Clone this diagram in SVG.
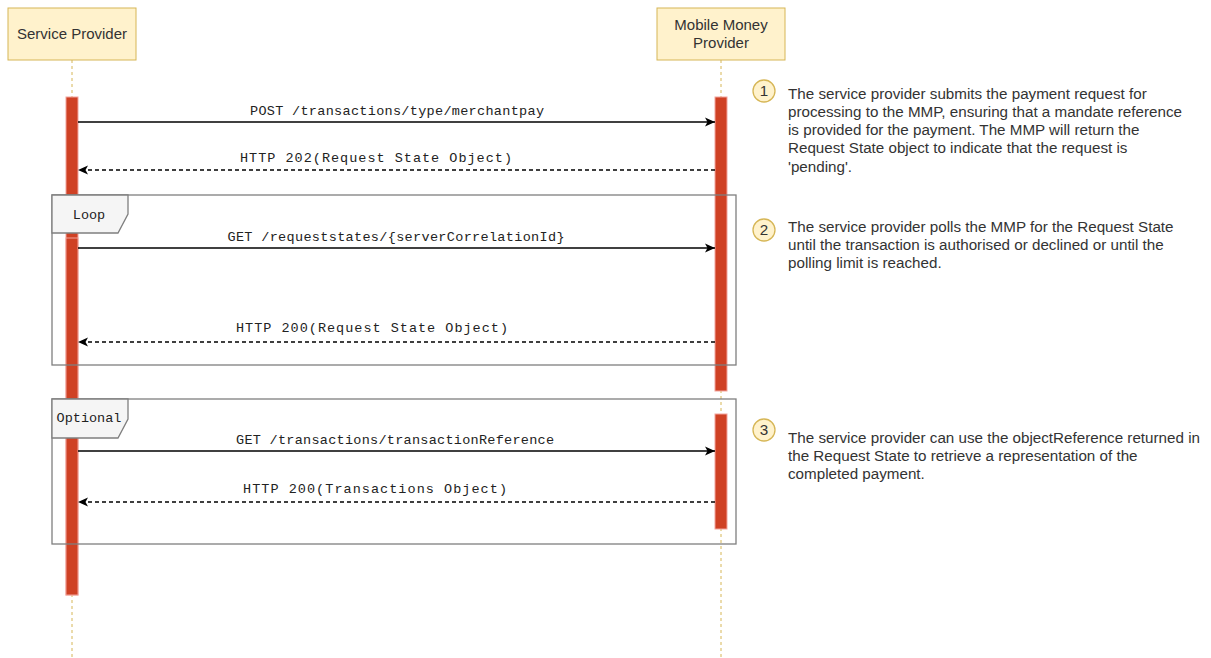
<svg xmlns="http://www.w3.org/2000/svg" width="1211" height="658" viewBox="0 0 1211 658">
<style>
.actor{fill:#fff2cc;stroke:#d6b656;stroke-width:1}
.lbl{font-family:"Liberation Sans",Arial,sans-serif;font-size:15px;fill:#333}
.life{stroke:#d6b656;stroke-width:1;stroke-dasharray:3,3;fill:none}
.act{fill:#cf4124;stroke:#f2a49c;stroke-width:1}
.frame{fill:none;stroke:#7f7f7f;stroke-width:1.3}
.tab{fill:#f5f5f5;stroke:#7f7f7f;stroke-width:1.3}
.mono{font-family:"Liberation Mono","Courier New",monospace;font-size:13.5px;fill:#222}
.msg{stroke:#000;stroke-width:1.3;fill:none}
.ret{stroke:#000;stroke-width:1.3;fill:none;stroke-dasharray:4,3}
.num{fill:#fff2cc;stroke:#d6b656;stroke-width:1.3}
.note{font-family:"Liberation Sans",Arial,sans-serif;font-size:15.2px;fill:#333}
</style>
<defs>
<marker id="ah" viewBox="0 0 10 10" refX="10" refY="5" markerWidth="10" markerHeight="10" markerUnits="userSpaceOnUse" orient="auto">
<path d="M0,0.5 L10,5 L0,9.5 L2.5,5 Z" fill="#000"/>
</marker>
</defs>
<rect width="1211" height="658" fill="#fff"/>
<g id="lifelines">
<line class="life" x1="72" y1="60" x2="72" y2="658"/>
<line class="life" x1="721" y1="60" x2="721" y2="658"/>
</g>
<g id="service-provider">
<rect class="actor" x="8" y="8" width="128" height="52"/>
<text class="lbl" x="72" y="39" text-anchor="middle">Service Provider</text>
</g>
<g id="mmp">
<rect class="actor" x="657" y="8" width="128" height="52"/>
<text class="lbl" x="721" y="30" text-anchor="middle">Mobile Money</text>
<text class="lbl" x="721" y="48" text-anchor="middle">Provider</text>
</g>
<g id="activations">
<rect class="act" x="66" y="97" width="12" height="498"/>
<rect class="act" x="66" y="238" width="12" height="357"/>
<rect class="act" x="715" y="97" width="12" height="294"/>
<rect class="act" x="715" y="414" width="12" height="115"/>
</g>
<g id="loop-frame">
<rect class="frame" x="52" y="195" width="684" height="170"/>
<path class="tab" d="M52,195 H128 V214 L118,233 H52 Z"/>
<text class="mono" x="89" y="219" text-anchor="middle" fill="#444" font-size="14.5">Loop</text>
</g>
<g id="optional-frame">
<rect class="frame" x="52" y="399" width="684" height="145"/>
<path class="tab" d="M52,399 H128 V419 L118,438 H52 Z"/>
<text class="mono" x="89" y="422" text-anchor="middle" fill="#444" font-size="15">Optional</text>
</g>
<g id="connectors">
<line class="msg" x1="78" y1="122" x2="715" y2="122" marker-end="url(#ah)"/>
<text class="mono" x="397" y="115" text-anchor="middle" textLength="294">POST /transactions/type/merchantpay</text>
<line class="ret" x1="715" y1="170" x2="78" y2="170" marker-end="url(#ah)"/>
<text class="mono" x="376" y="162" text-anchor="middle" textLength="272">HTTP 202(Request State Object)</text>
<line class="msg" x1="78" y1="248" x2="715" y2="248" marker-end="url(#ah)"/>
<text class="mono" x="396" y="241" text-anchor="middle" textLength="337">GET /requeststates/{serverCorrelationId}</text>
<line class="ret" x1="715" y1="342" x2="78" y2="342" marker-end="url(#ah)"/>
<text class="mono" x="372" y="332" text-anchor="middle" textLength="272">HTTP 200(Request State Object)</text>
<line class="msg" x1="78" y1="451" x2="715" y2="451" marker-end="url(#ah)"/>
<text class="mono" x="395" y="444" text-anchor="middle" textLength="318">GET /transactions/transactionReference</text>
<line class="ret" x1="715" y1="502" x2="78" y2="502" marker-end="url(#ah)"/>
<text class="mono" x="375" y="493" text-anchor="middle" textLength="264">HTTP 200(Transactions Object)</text>
</g>
<g id="note-1">
<circle class="num" cx="764" cy="91" r="11"/>
<text class="note" x="764" y="96" text-anchor="middle" font-size="13">1</text>
<text class="note" x="788" y="99">The service provider submits the payment request for</text>
<text class="note" x="788" y="117">processing to the MMP, ensuring that a mandate reference</text>
<text class="note" x="788" y="135">is provided for the payment. The MMP will return the</text>
<text class="note" x="788" y="153">Request State object to indicate that the request is</text>
<text class="note" x="788" y="172">'pending'.</text>
</g>
<g id="note-2">
<circle class="num" cx="764" cy="230" r="11"/>
<text class="note" x="764" y="235" text-anchor="middle" font-size="13">2</text>
<text class="note" x="788" y="232">The service provider polls the MMP for the Request State</text>
<text class="note" x="788" y="250">until the transaction is authorised or declined or until the</text>
<text class="note" x="788" y="268">polling limit is reached.</text>
</g>
<g id="note-3">
<circle class="num" cx="764" cy="430" r="11"/>
<text class="note" x="764" y="435" text-anchor="middle" font-size="13">3</text>
<text class="note" x="788" y="443">The service provider can use the objectReference returned in</text>
<text class="note" x="788" y="461">the Request State to retrieve a representation of the</text>
<text class="note" x="788" y="479">completed payment.</text>
</g>
</svg>
